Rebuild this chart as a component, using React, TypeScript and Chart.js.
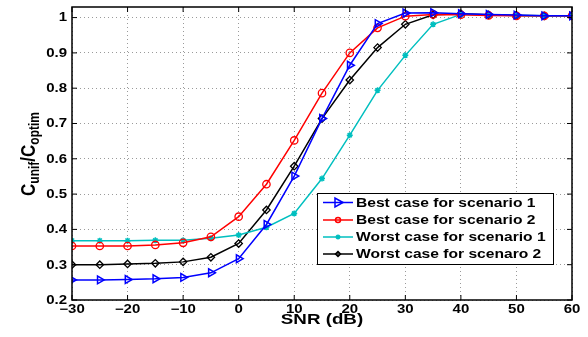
import React, { useEffect, useRef } from 'react';
import { Chart, registerables } from 'chart.js';
Chart.register(...registerables);

const snr = [-30, -25, -20, -15, -10, -5, 0, 5, 10, 15, 20, 25, 30, 35, 40, 45, 50, 55, 60];
const bestS1 = [0.257, 0.257, 0.258, 0.26, 0.264, 0.277, 0.317, 0.414, 0.551, 0.714, 0.865, 0.983, 1.013, 1.014, 1.011, 1.009, 1.007, 1.005, 1.005];
const bestS2 = [0.353, 0.353, 0.353, 0.356, 0.362, 0.379, 0.436, 0.528, 0.652, 0.786, 0.9, 0.971, 1.004, 1.009, 1.008, 1.006, 1.005, 1.005, 1.005];
const worstS1 = [0.368, 0.368, 0.368, 0.369, 0.369, 0.375, 0.384, 0.406, 0.445, 0.544, 0.667, 0.794, 0.893, 0.981, 1.009, 1.007, 1.006, 1.005, 1.005];
const worstS2 = [0.3, 0.3, 0.302, 0.304, 0.308, 0.321, 0.36, 0.455, 0.579, 0.714, 0.823, 0.915, 0.981, 1.008, 1.011, 1.008, 1.006, 1.005, 1.005];
const seriesNames = ['Best case for scenario 1', 'Best case for scenario 2', 'Worst case for scenario 1', 'Worst case for scenaro 2'];
const xTicks = [-30, -20, -10, 0, 10, 20, 30, 40, 50, 60];
const yTicks = [0.2, 0.3, 0.4, 0.5, 0.6, 0.7, 0.8, 0.9, 1.0];

const FONT = '"Liberation Sans", Arial, Helvetica, sans-serif';

function stretchedText(ctx: CanvasRenderingContext2D, text: string, x: number, y: number, sx: number, align: 'left' | 'center' | 'right') {
  const w = ctx.measureText(text).width * sx;
  let x0 = x;
  if (align === 'center') x0 = x - w / 2;
  else if (align === 'right') x0 = x - w;
  ctx.save();
  ctx.translate(x0, y);
  ctx.scale(sx, 1);
  ctx.textAlign = 'left';
  ctx.fillText(text, 0, 0);
  ctx.restore();
}

function drawMarker(ctx: CanvasRenderingContext2D, style: string, x: number, y: number, r: number, color: string) {
  ctx.save();
  ctx.strokeStyle = color;
  ctx.fillStyle = color;
  ctx.lineWidth = 1.5;
  ctx.beginPath();
  if (style === 'tri') {
    ctx.moveTo(x + r, y);
    ctx.lineTo(x - r * 0.6, y - r * 0.9);
    ctx.lineTo(x - r * 0.6, y + r * 0.9);
    ctx.closePath();
    ctx.stroke();
  } else if (style === 'circle') {
    ctx.arc(x, y, r, 0, Math.PI * 2);
    ctx.stroke();
  } else if (style === 'star') {
    for (let i = 0; i < 4; i++) {
      const a = (i * Math.PI) / 4;
      ctx.moveTo(x - r * Math.cos(a), y - r * Math.sin(a));
      ctx.lineTo(x + r * Math.cos(a), y + r * Math.sin(a));
    }
    ctx.stroke();
  } else if (style === 'diamond') {
    ctx.moveTo(x, y - r);
    ctx.lineTo(x + r, y);
    ctx.lineTo(x, y + r);
    ctx.lineTo(x - r, y);
    ctx.closePath();
    ctx.stroke();
  }
  ctx.restore();
}

const colors = ['#0000ff', '#ff0000', '#00bfbf', '#000000'];
const legendMarkers = ['tri', 'circle', 'star', 'diamond'];

const overlay = {
  id: 'overlay',
  afterDraw(chart: any) {
    const ctx: CanvasRenderingContext2D = chart.ctx;
    const { left, right, top, bottom } = chart.chartArea;
    const xs = chart.scales.x;
    const ys = chart.scales.y;
    ctx.save();
    // frame
    ctx.strokeStyle = '#000';
    ctx.lineWidth = 1.5;
    ctx.strokeRect(left, top, right - left, bottom - top);
    // inward ticks
    ctx.lineWidth = 1;
    ctx.beginPath();
    const tl = 5;
    xTicks.forEach((t) => {
      const px = xs.getPixelForValue(t);
      ctx.moveTo(px, bottom);
      ctx.lineTo(px, bottom - tl);
      ctx.moveTo(px, top);
      ctx.lineTo(px, top + tl);
    });
    yTicks.forEach((t) => {
      const py = ys.getPixelForValue(t);
      ctx.moveTo(left, py);
      ctx.lineTo(left + tl, py);
      ctx.moveTo(right, py);
      ctx.lineTo(right - tl, py);
    });
    ctx.stroke();

    // tick labels
    ctx.fillStyle = '#000';
    ctx.font = `bold 12px ${FONT}`;
    ctx.textBaseline = 'middle';
    xTicks.forEach((t) => {
      const px = xs.getPixelForValue(t);
      const s = t < 0 ? '\u2212' + Math.abs(t) : String(t);
      stretchedText(ctx, s, px, 310, 1.25, 'center');
    });
    yTicks.forEach((t) => {
      const py = ys.getPixelForValue(t);
      const s = Math.abs(t - 1) < 1e-9 ? '1' : t.toFixed(1);
      stretchedText(ctx, s, 67, py + 0.5, 1.25, 'right');
    });

    // legend
    const lx = 317, ly = 193, lw = 236, lh = 71;
    ctx.fillStyle = '#fff';
    ctx.fillRect(lx, ly, lw, lh);
    ctx.strokeStyle = '#000';
    ctx.lineWidth = 1;
    ctx.strokeRect(lx + 0.5, ly + 0.5, lw, lh);
    ctx.font = `bold 12px ${FONT}`;
    ctx.textBaseline = 'middle';
    const rows = [202.5, 220, 237, 254];
    seriesNames.forEach((name, i) => {
      const ry = rows[i];
      ctx.strokeStyle = colors[i];
      ctx.lineWidth = 1.5;
      ctx.beginPath();
      ctx.moveTo(323, ry);
      ctx.lineTo(353, ry);
      ctx.stroke();
      drawMarker(ctx, legendMarkers[i], 338, ry, i === 0 ? 5 : 2.5, colors[i]);
      ctx.fillStyle = '#000';
      stretchedText(ctx, name, 356, ry + 1, 1.3, 'left');
    });

    // x title
    ctx.fillStyle = '#000';
    ctx.font = `bold 15px ${FONT}`;
    ctx.textBaseline = 'middle';
    stretchedText(ctx, 'SNR (dB)', (left + right) / 2, 320, 1.25, 'center');

    // y title
    ctx.save();
    ctx.translate(29, 154);
    ctx.rotate(-Math.PI / 2);
    ctx.scale(1, 1.2);
    const big = `bold 17px ${FONT}`;
    const small = `bold 12px ${FONT}`;
    const parts: [string, string, number][] = [
      ['C', big, 0],
      ['unif', small, 5],
      ['/C', big, 0],
      ['optim', small, 5],
    ];
    let total = 0;
    parts.forEach(([t, f]) => {
      ctx.font = f;
      total += ctx.measureText(t).width;
    });
    let cx = -total / 2;
    ctx.textAlign = 'left';
    ctx.textBaseline = 'middle';
    parts.forEach(([t, f, dy]) => {
      ctx.font = f;
      ctx.fillText(t, cx, dy);
      cx += ctx.measureText(t).width;
    });
    ctx.restore();
    ctx.restore();
  },
};

export default function App() {
  const ref = useRef<HTMLCanvasElement | null>(null);
  useEffect(() => {
    if (!ref.current) return;
    const mk = (data: number[]) => snr.map((x, i) => ({ x, y: data[i] }));
    const chart = new Chart(ref.current, {
      type: 'line',
      data: {
        datasets: [
          {
            label: seriesNames[0], data: mk(bestS1), borderColor: colors[0], backgroundColor: 'rgba(0,0,0,0)',
            pointStyle: 'triangle', pointRotation: 90, pointRadius: 4.5, pointBorderWidth: 1.5, borderWidth: 1.5,
            pointBorderColor: colors[0],
          },
          {
            label: seriesNames[1], data: mk(bestS2), borderColor: colors[1], backgroundColor: 'rgba(0,0,0,0)',
            pointStyle: 'circle', pointRadius: 3.7, pointBorderWidth: 1.3, borderWidth: 1.5,
          },
          {
            label: seriesNames[2], data: mk(worstS1), borderColor: colors[2], backgroundColor: colors[2],
            pointStyle: 'star', pointRadius: 3, pointBorderWidth: 1.5, borderWidth: 1.5,
          },
          {
            label: seriesNames[3], data: mk(worstS2), borderColor: colors[3], backgroundColor: 'rgba(0,0,0,0)',
            pointStyle: 'rectRot', pointRadius: 3.7, pointBorderWidth: 1.3, borderWidth: 1.5,
          },
        ],
      },
      options: {
        responsive: false,
        animation: false,
        maintainAspectRatio: false,
        layout: { padding: { left: 0, right: 16, top: 7, bottom: 0 } },
        plugins: { legend: { display: false }, tooltip: { enabled: false }, title: { display: false } },
        elements: { line: { tension: 0 } },
        scales: {
          x: {
            type: 'linear', min: -30, max: 60,
            afterBuildTicks: (s: any) => { s.ticks = xTicks.map((v) => ({ value: v })); },
            afterFit: (s: any) => { s.height = 37; s.paddingLeft = 0; s.paddingRight = 0; },
            grid: { color: '#9a9a9a', drawTicks: false, lineWidth: 1 },
            border: { display: false, dash: [1, 3] },
            ticks: { display: false },
          },
          y: {
            type: 'linear', min: 0.2, max: 1.03,
            afterBuildTicks: (s: any) => { s.ticks = yTicks.map((v) => ({ value: v })); },
            afterFit: (s: any) => { s.width = 72; s.paddingTop = 0; s.paddingBottom = 0; },
            grid: { color: '#9a9a9a', drawTicks: false, lineWidth: 1 },
            border: { display: false, dash: [1, 3] },
            ticks: { display: false },
          },
        },
      },
      plugins: [overlay],
    } as any);
    return () => chart.destroy();
  }, []);
  return (
    <div style={{ position: 'fixed', left: 0, top: 0, width: 588, height: 337, background: '#fff' }}>
      <canvas ref={ref} width={588} height={337} style={{ width: 588, height: 337 }} />
    </div>
  );
}
